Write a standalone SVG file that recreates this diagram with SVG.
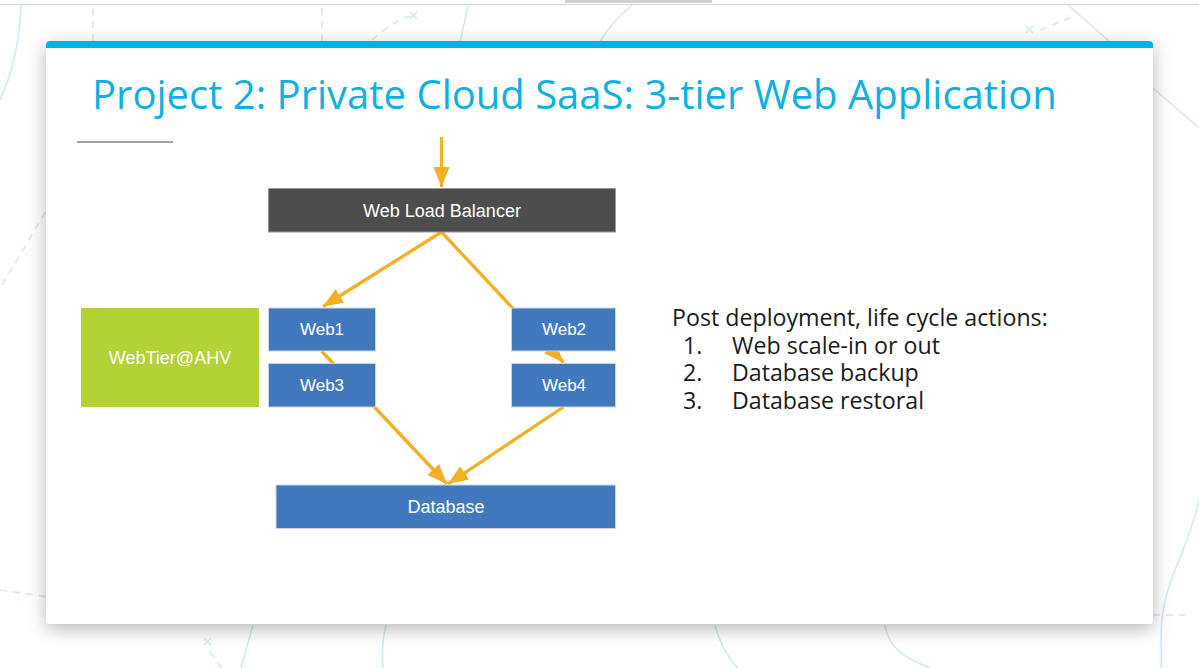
<svg xmlns="http://www.w3.org/2000/svg" width="1199" height="668" viewBox="0 0 1199 668">
  <defs>
    <filter id="shadow" x="-10%" y="-10%" width="120%" height="125%">
      <feDropShadow dx="0" dy="5" stdDeviation="9" flood-color="#000" flood-opacity="0.28"/>
    </filter>
    <marker id="arrow" markerUnits="userSpaceOnUse" markerWidth="20" markerHeight="16" viewBox="0 0 20 16" refX="20" refY="8" orient="auto">
      <path d="M0,0 L20,8 L0,16 z" fill="#f2b022"/>
    </marker>
    <style>
      .deco { fill: none; stroke: #cfeaf3; stroke-width: 1.6; }
      .dash { stroke-dasharray: 7 6; }
      .conn { fill: none; stroke: #f2b022; stroke-width: 3.3; }
      .blue { fill: #4279be; stroke: #c5d5ea; stroke-width: 1; }
      .lbl { font-family: "Liberation Sans", Arial, sans-serif; fill: #ffffff; text-anchor: middle; }
      .body { font-family: "Open Sans", "Noto Sans", sans-serif; font-size: 23.2px; fill: #1a1a1a; }
    </style>
  </defs>

  <!-- page background -->
  <rect x="0" y="0" width="1199" height="668" fill="#ffffff"/>
  <rect x="565" y="0" width="147" height="3" fill="#d0d0d0"/>
  <line x1="0" y1="4.5" x2="1199" y2="4.5" stroke="#d4d4d4" stroke-width="1"/>

  <!-- decorative background strokes -->
  <g id="decoration">
    <path class="deco" d="M21,5 C20,40 12,75 0,100"/>
    <path class="deco dash" d="M93,8 L93,42"/>
    <path class="deco dash" d="M322,8 L322,42"/>
    <path class="deco dash" d="M372,40 C385,28 398,20 410,16"/>
    <path class="deco" d="M410,12 l7,7 M417,12 l-7,7"/>
    <path class="deco" d="M468,6 L460,42"/>
    <path class="deco" d="M632,5 C620,15 608,28 600,42"/>
    <path class="deco" d="M1068,5 L1110,42"/>
    <path class="deco" d="M1153,88 L1199,128"/>
    <path class="deco dash" d="M1040,30 L1075,16"/>
    <path class="deco" d="M1026,26 l7,7 M1033,26 l-7,7"/>
    <path class="deco dash" d="M2,285 C20,255 38,225 55,195"/>
    <path class="deco dash" d="M0,590 L48,597"/>
    <path class="deco" d="M204,638 l7,7 M211,638 l-7,7"/>
    <path class="deco dash" d="M210,652 L222,668"/>
    <path class="deco" d="M253,625 L241,668"/>
    <path class="deco" d="M386,625 C382,640 382,655 383,668"/>
    <path class="deco" d="M715,625 C720,645 728,658 738,668"/>
    <path class="deco" d="M885,625 C888,650 910,660 930,668"/>
    <path class="deco" d="M1199,500 C1190,545 1165,580 1162,620 C1160,640 1162,655 1161,668"/>
    <path class="deco dash" d="M1153,615 L1185,615"/>
  </g>

  <!-- slide card -->
  <g id="card">
    <rect x="46" y="41" width="1107" height="583" rx="4" fill="#ffffff" filter="url(#shadow)"/>
    <path d="M46,48 L46,45 Q46,41 50,41 L1149,41 Q1153,41 1153,45 L1153,48 Z" fill="#00b2e2"/>
  </g>

  <!-- title -->
  <g id="title">
    <text x="92" y="109" font-family="'Open Sans', 'Noto Sans', sans-serif" font-size="40" fill="#0db1e1">Project 2: Private Cloud SaaS: 3-tier Web Application</text>
    <line x1="77" y1="142" x2="173" y2="142" stroke="#808080" stroke-width="1.6"/>
  </g>

  <!-- connectors -->
  <g id="connectors">
    <line class="conn" x1="441.5" y1="137" x2="441.5" y2="187" marker-end="url(#arrow)"/>
    <line class="conn" x1="441.5" y1="232" x2="323" y2="306.5" marker-end="url(#arrow)"/>
    <line class="conn" x1="441.5" y1="232" x2="563.5" y2="362.5" marker-end="url(#arrow)"/>
    <line class="conn" x1="321.5" y1="351" x2="447" y2="484" marker-end="url(#arrow)"/>
    <line class="conn" x1="563.5" y1="407" x2="448" y2="484" marker-end="url(#arrow)"/>
  </g>

  <!-- nodes -->
  <g id="node-lb">
    <rect x="268.5" y="188.5" width="347" height="43.5" fill="#4d4d4d" stroke="#9a9a9a" stroke-width="1"/>
    <text class="lbl" x="442" y="217" font-size="18">Web Load Balancer</text>
  </g>
  <g id="node-webtier">
    <rect x="81" y="308" width="178" height="99" fill="#b2d235"/>
    <text class="lbl" x="170" y="364" font-size="18">WebTier@AHV</text>
  </g>
  <g id="node-web1">
    <rect class="blue" x="268.5" y="308" width="107" height="43"/>
    <text class="lbl" x="322" y="335" font-size="17">Web1</text>
  </g>
  <g id="node-web3">
    <rect class="blue" x="268.5" y="363.5" width="107" height="43.5"/>
    <text class="lbl" x="322" y="391" font-size="17">Web3</text>
  </g>
  <g id="node-web2">
    <rect class="blue" x="511.5" y="308" width="104" height="43"/>
    <text class="lbl" x="564" y="335" font-size="17">Web2</text>
  </g>
  <g id="node-web4">
    <rect class="blue" x="511.5" y="363.5" width="104" height="43.5"/>
    <text class="lbl" x="564" y="391" font-size="17">Web4</text>
  </g>
  <g id="node-db">
    <rect class="blue" x="276" y="485" width="339.5" height="43.5"/>
    <text class="lbl" x="446" y="513" font-size="18">Database</text>
  </g>

  <!-- side notes -->
  <g id="notes">
    <text class="body"><tspan x="672" y="326">Post deployment, life cycle actions:</tspan><tspan x="683" y="353.5">1.</tspan><tspan x="732" y="353.5">Web scale-in or out</tspan><tspan x="683" y="381">2.</tspan><tspan x="732" y="381">Database backup</tspan><tspan x="683" y="408.5">3.</tspan><tspan x="732" y="408.5">Database restoral</tspan></text>
  </g>
</svg>
